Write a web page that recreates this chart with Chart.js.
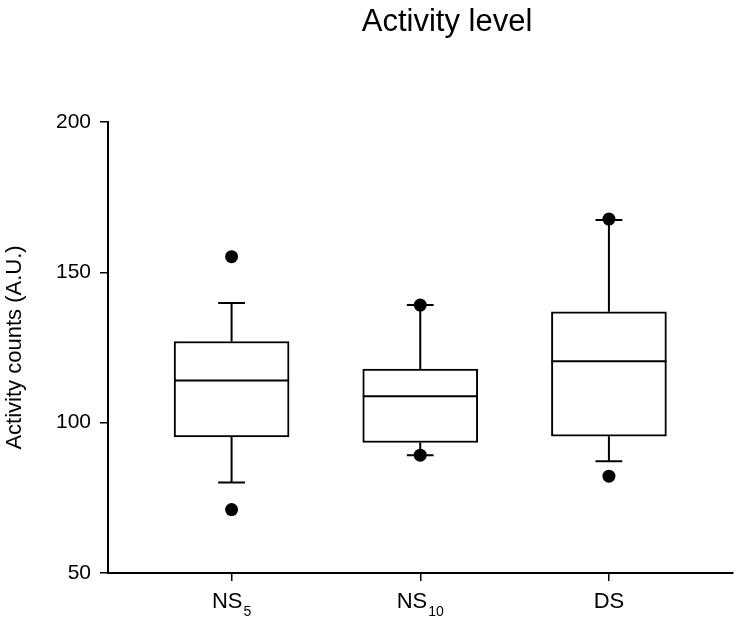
<!DOCTYPE html>
<html>
<head>
<meta charset="utf-8">
<title>Activity level</title>
<script src="https://cdn.jsdelivr.net/npm/chart.js@4"></script>
<style>
  html, body { margin: 0; padding: 0; background: #fff; }
  #wrap { width: 739px; height: 623px; }
</style>
</head>
<body>
<div id="wrap"><canvas id="chart" width="739" height="623"></canvas></div>
<script>
// group labels (main text + subscript)
const categories = ["NS", "NS", "DS"];
const categorySubs = ["5", "10", ""];

// box plot values
const lowerQuartile = [95.3, 93.4, 95.5];
const medianValues = [114, 108.8, 120.4];
const upperQuartile = [127, 117.8, 136.9];
const whiskerLow = [80.1, 89.2, 87.2];
const whiskerHigh = [139.8, 139.1, 167.4];
const outlierValues = [[71.1, 155.2], [89.2, 139.1], [82.2, 167.7]];

const yTicks = [50, 100, 150, 200];

const FONT = "'Liberation Sans', Arial, Helvetica, sans-serif";
Chart.defaults.font.family = FONT;
Chart.defaults.color = "#000";

const boxData = categories.map((c, i) => ({ x: i, y: [lowerQuartile[i], upperQuartile[i]] }));
const outlierData = [];
outlierValues.forEach((vals, i) => {
  vals.forEach((v) => outlierData.push({ x: i, y: v }));
});

const CAP_HALF = 0.071; // in x units

// whiskers, medians, group labels, title
const boxPlotPlugin = {
  id: "boxPlot",
  beforeDatasetsDraw(chart) {
    const ctx = chart.ctx;
    const xs = chart.scales.x;
    const ys = chart.scales.y;
    ctx.save();
    ctx.strokeStyle = "#000";
    ctx.lineWidth = 2;
    categories.forEach((c, i) => {
      const x = xs.getPixelForValue(i);
      const cap = xs.getPixelForValue(i + CAP_HALF) - x;
      const pairs = [
        [upperQuartile[i], whiskerHigh[i]],
        [lowerQuartile[i], whiskerLow[i]],
      ];
      pairs.forEach(([from, to]) => {
        const y1 = ys.getPixelForValue(from);
        const y2 = ys.getPixelForValue(to);
        ctx.beginPath();
        ctx.moveTo(x, y1);
        ctx.lineTo(x, y2);
        ctx.moveTo(x - cap, y2);
        ctx.lineTo(x + cap, y2);
        ctx.stroke();
      });
    });
    ctx.restore();
  },
  afterDatasetsDraw(chart) {
    const ctx = chart.ctx;
    const ys = chart.scales.y;
    const bars = chart.getDatasetMeta(0).data;
    ctx.save();
    ctx.strokeStyle = "#000";
    ctx.lineWidth = 2;
    bars.forEach((bar, i) => {
      const y = ys.getPixelForValue(medianValues[i]);
      ctx.beginPath();
      ctx.moveTo(bar.x - bar.width / 2, y);
      ctx.lineTo(bar.x + bar.width / 2, y);
      ctx.stroke();
    });
    ctx.restore();
  },
  afterDraw(chart) {
    const ctx = chart.ctx;
    const xs = chart.scales.x;
    ctx.save();
    ctx.fillStyle = "#000";
    ctx.textBaseline = "alphabetic";
    // category labels with subscripts
    const mainFont = "22px " + FONT;
    const subFont = "14px " + FONT;
    const baseY = xs.top + 35;
    categories.forEach((c, i) => {
      ctx.font = mainFont;
      const wMain = ctx.measureText(c).width;
      ctx.font = subFont;
      const wSub = categorySubs[i] ? ctx.measureText(categorySubs[i]).width + 1 : 0;
      let x = xs.getPixelForValue(i) - (wMain + wSub) / 2;
      ctx.textAlign = "left";
      ctx.font = mainFont;
      ctx.fillText(c, x, baseY);
      if (categorySubs[i]) {
        ctx.font = subFont;
        ctx.fillText(categorySubs[i], x + wMain + 1, baseY + 8);
      }
    });
    // title
    ctx.font = "31px " + FONT;
    ctx.textAlign = "center";
    ctx.fillText("Activity level", 447, 31);
    ctx.restore();
  },
};

new Chart(document.getElementById("chart"), {
  type: "bar",
  data: {
    datasets: [
      {
        type: "bar",
        data: boxData,
        backgroundColor: "#fff",
        borderColor: "#000",
        borderWidth: 2,
        borderSkipped: false,
        barThickness: 115,
        order: 2,
      },
      {
        type: "scatter",
        data: outlierData,
        backgroundColor: "#000",
        borderWidth: 0,
        pointRadius: 6.5,
        order: 1,
      },
    ],
  },
  options: {
    responsive: false,
    animation: false,
    events: [],
    layout: { padding: { top: 122, right: 2, bottom: 0, left: 0 } },
    plugins: {
      legend: { display: false },
      tooltip: { enabled: false },
      title: { display: false },
    },
    scales: {
      x: {
        type: "linear",
        min: -0.655,
        max: 2.655,
        offset: false,
        grid: {
          offset: false,
          drawOnChartArea: false,
          drawTicks: true,
          tickLength: 8,
          color: "#000",
          lineWidth: 1.5,
        },
        border: { color: "#000", width: 2 },
        ticks: { display: false },
        afterBuildTicks: (s) => {
          s.ticks = categories.map((c, i) => ({ value: i }));
        },
        afterFit: (s) => {
          s.height = 50;
        },
      },
      y: {
        type: "linear",
        min: 50,
        max: 200,
        beginAtZero: false,
        grid: {
          drawOnChartArea: false,
          drawTicks: true,
          tickLength: 8,
          color: "#000",
          lineWidth: 1.5,
        },
        border: { color: "#000", width: 2 },
        ticks: {
          font: { size: 21 },
          color: "#000",
          padding: 9,
        },
        afterBuildTicks: (s) => {
          s.ticks = yTicks.map((v) => ({ value: v }));
        },
        afterFit: (s) => {
          s.width = 108;
        },
        title: {
          display: true,
          text: "Activity counts (A.U.)",
          font: { size: 22 },
          color: "#000",
          padding: { top: 2, bottom: 0 },
        },
      },
    },
  },
  plugins: [boxPlotPlugin],
});
</script>
</body>
</html>
